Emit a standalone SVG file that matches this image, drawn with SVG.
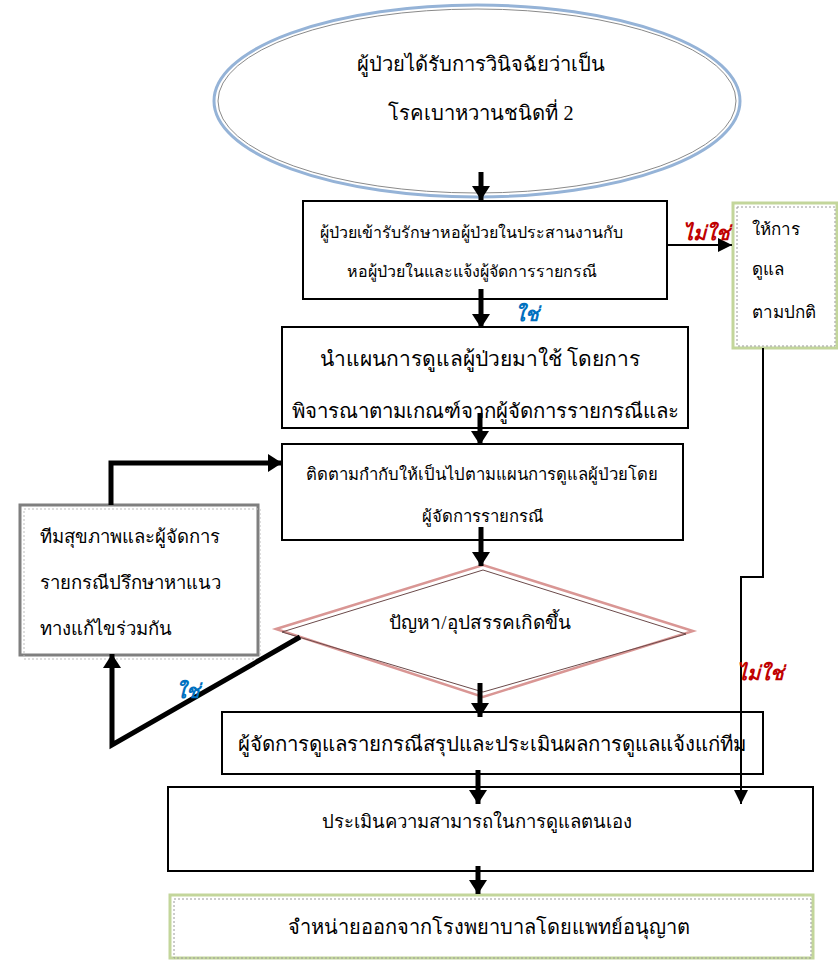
<svg xmlns="http://www.w3.org/2000/svg" width="838" height="962" viewBox="0 0 838 962">
<defs>
<style>
text{font-family:"Liberation Serif","Noto Sans",serif;fill:#000;}
.box{fill:#fff;stroke:#000;stroke-width:2;}
.c{text-anchor:middle;}
.thick{fill:none;stroke:#000;stroke-width:5;}
.thin{fill:none;stroke:#000;stroke-width:2;}
.yes{fill:#0070c0;font-style:italic;font-weight:bold;font-size:20px;}
.no{fill:#c00000;font-style:italic;font-weight:bold;font-size:20px;}
</style>
<marker id="ah" markerUnits="userSpaceOnUse" viewBox="0 0 14 18" refX="14" refY="9" markerWidth="14" markerHeight="18" orient="auto">
<path d="M0,0 L14,9 L0,18 z" fill="#000"/>
</marker>
<marker id="ahs" markerUnits="userSpaceOnUse" viewBox="0 0 14 14" refX="14" refY="7" markerWidth="14" markerHeight="14" orient="auto">
<path d="M0,0 L14,7 L0,14 z" fill="#000"/>
</marker>
</defs>
<rect width="838" height="962" fill="#fff"/>

<g id="start">
<ellipse cx="477" cy="101" rx="263" ry="96" fill="#fff" stroke="#95b3d7" stroke-width="3"/>
<ellipse cx="477" cy="101" rx="259" ry="92" fill="none" stroke="#8a8a8a" stroke-width="1"/>
<text class="c" x="481" y="71" font-size="20.2">ผู้ป่วยได้รับการวินิจฉัยว่าเป็น</text>
<text class="c" x="481" y="120" font-size="20.2">โรคเบาหวานชนิดที่ 2</text>
</g>

<g id="admit">
<rect class="box" x="303" y="201" width="364" height="98"/>
<text class="c" x="471" y="238" font-size="16">ผู้ป่วยเข้ารับรักษาหอผู้ป่วยในประสานงานกับ</text>
<text class="c" x="472" y="277" font-size="16">หอผู้ป่วยในและแจ้งผู้จัดการรายกรณี</text>
</g>

<g id="normal">
<rect x="733" y="203" width="104" height="145" fill="#fff" stroke="#c3d69b" stroke-width="3"/>
<rect x="737" y="207" width="98" height="139" fill="none" stroke="#9a9a9a" stroke-width="1" stroke-dasharray="2,2"/>
<text x="752" y="235" font-size="17">ให้การ</text>
<text x="752" y="275" font-size="17">ดูแล</text>
<text x="752" y="318" font-size="17">ตามปกติ</text>
</g>

<g id="plan">
<rect class="box" x="282" y="327" width="406" height="101"/>
<text class="c" x="480" y="366" font-size="21">นำแผนการดูแลผู้ป่วยมาใช้ โดยการ</text>
<text class="c" x="485" y="418" font-size="20.4">พิจารณาตามเกณฑ์จากผู้จัดการรายกรณีและ</text>
</g>

<g id="monitor">
<rect class="box" x="282" y="444" width="401" height="96"/>
<text class="c" x="482" y="480" font-size="16.7">ติดตามกำกับให้เป็นไปตามแผนการดูแลผู้ป่วยโดย</text>
<text class="c" x="482" y="522" font-size="16.7">ผู้จัดการรายกรณี</text>
</g>

<g id="team">
<rect x="20" y="505" width="238" height="150" fill="#fff" stroke="#7f7f7f" stroke-width="3"/>
<rect x="24" y="509" width="236" height="150" fill="none" stroke="#bdbdbd" stroke-width="1" stroke-dasharray="2,2"/>
<text x="40" y="543" font-size="18.5">ทีมสุขภาพและผู้จัดการ</text>
<text x="40" y="589" font-size="18.5">รายกรณีปรึกษาหาแนว</text>
<text x="40" y="635" font-size="18.5">ทางแก้ไขร่วมกัน</text>
</g>

<g id="problem">
<polygon points="276,629 483,565 693,631 483,697" fill="#fff" stroke="#d99694" stroke-width="2.5"/>
<polygon points="282,632 483,570 686,634 483,692" fill="none" stroke="#6b4a4a" stroke-width="1"/>
<text class="c" x="480" y="629" font-size="19">ปัญหา/อุปสรรคเกิดขึ้น</text>
</g>

<g id="summary">
<rect class="box" x="222" y="712" width="541" height="62"/>
<text class="c" x="492" y="751" font-size="20.4">ผู้จัดการดูแลรายกรณีสรุปและประเมินผลการดูแลแจ้งแก่ทีม</text>
</g>

<g id="selfcare">
<rect class="box" x="168" y="787" width="645" height="84"/>
<text class="c" x="477" y="828" font-size="18.5">ประเมินความสามารถในการดูแลตนเอง</text>
</g>

<g id="discharge">
<rect x="170" y="895" width="643" height="63" fill="#fff" stroke="#c3d69b" stroke-width="3"/>
<rect x="174" y="899" width="637" height="59" fill="none" stroke="#9a9a9a" stroke-width="1" stroke-dasharray="2,2"/>
<text class="c" x="489" y="934" font-size="20">จำหน่ายออกจากโรงพยาบาลโดยแพทย์อนุญาต</text>
</g>

<g id="connectors">
<line class="thick" x1="481" y1="172" x2="481" y2="200" marker-end="url(#ah)"/>
<line class="thick" x1="481" y1="289" x2="481" y2="328" marker-end="url(#ah)"/>
<line class="thick" x1="480" y1="413" x2="480" y2="445" marker-end="url(#ah)"/>
<line class="thick" x1="481" y1="527" x2="481" y2="566" marker-end="url(#ah)"/>
<line class="thick" x1="480" y1="683" x2="480" y2="717" marker-end="url(#ah)"/>
<line class="thick" x1="478" y1="770" x2="478" y2="804" marker-end="url(#ah)"/>
<line class="thick" x1="478" y1="866" x2="478" y2="894" marker-end="url(#ah)"/>
<line class="thin" x1="667" y1="245" x2="732" y2="245" marker-end="url(#ahs)"/>
<polyline class="thin" points="763,348 763,577 741,577 741,804" marker-end="url(#ahs)"/>
<polyline class="thick" points="111,505 111,463 282,463" marker-end="url(#ah)"/>
<polyline class="thick" points="300,637 112,745 112,654" marker-end="url(#ah)"/>
<text class="yes" x="527" y="321" text-anchor="middle">ใช่</text>
<text class="no" x="706" y="240" text-anchor="middle">ไม่ใช่</text>
<text class="no" x="760" y="680" text-anchor="middle">ไม่ใช่</text>
<text class="yes" x="188" y="698" text-anchor="middle">ใช่</text>
</g>
</svg>
